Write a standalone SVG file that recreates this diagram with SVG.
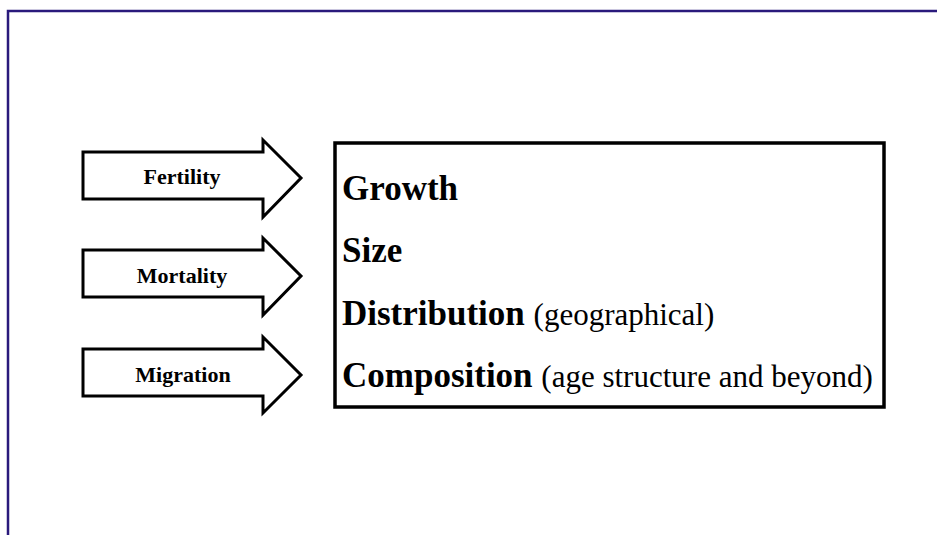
<svg xmlns="http://www.w3.org/2000/svg" width="937" height="535" viewBox="0 0 937 535">
<style>
.frame{fill:none;stroke:#2a1a7c;stroke-width:2.5}
.arrow{fill:#fff;stroke:#000;stroke-width:3;stroke-linejoin:miter}
.lbl{font-family:"Liberation Serif","Times New Roman",serif;font-weight:bold;font-size:22px;fill:#000;text-anchor:middle}
.box{fill:#fff;stroke:#000;stroke-width:3.5}
.big{font-family:"Liberation Serif","Times New Roman",serif;font-size:35px;fill:#000}
.b{font-weight:bold}
.sm{font-weight:normal;font-size:31px}
</style>
<rect width="937" height="535" fill="#fff"/>
<path class="frame" d="M8,535 V11 H937"/>
<g id="connectors">
<g id="arrow-fertility">
<polygon class="arrow" points="83,152 263,152 263,140 301,178 263,217 263,199 83,199"/>
<text class="lbl" x="182" y="184">Fertility</text>
</g>
<g id="arrow-mortality">
<polygon class="arrow" points="83,250 263,250 263,238 301,276 263,315 263,297 83,297"/>
<text class="lbl" x="182" y="283">Mortality</text>
</g>
<g id="arrow-migration">
<polygon class="arrow" points="83,349 263,349 263,337 301,375 263,413 263,396 83,396"/>
<text class="lbl" x="183" y="382">Migration</text>
</g>
</g>
<g id="box">
<rect class="box" x="335" y="143" width="549" height="264"/>
<text class="big b" x="342" y="200">Growth</text>
<text class="big b" x="342" y="262">Size</text>
<text class="big" x="342" y="325"><tspan class="b">Distribution</tspan> <tspan class="sm">(geographical)</tspan></text>
<text class="big" x="342" y="387"><tspan class="b">Composition</tspan> <tspan class="sm">(age structure and beyond)</tspan></text>
</g>
</svg>
